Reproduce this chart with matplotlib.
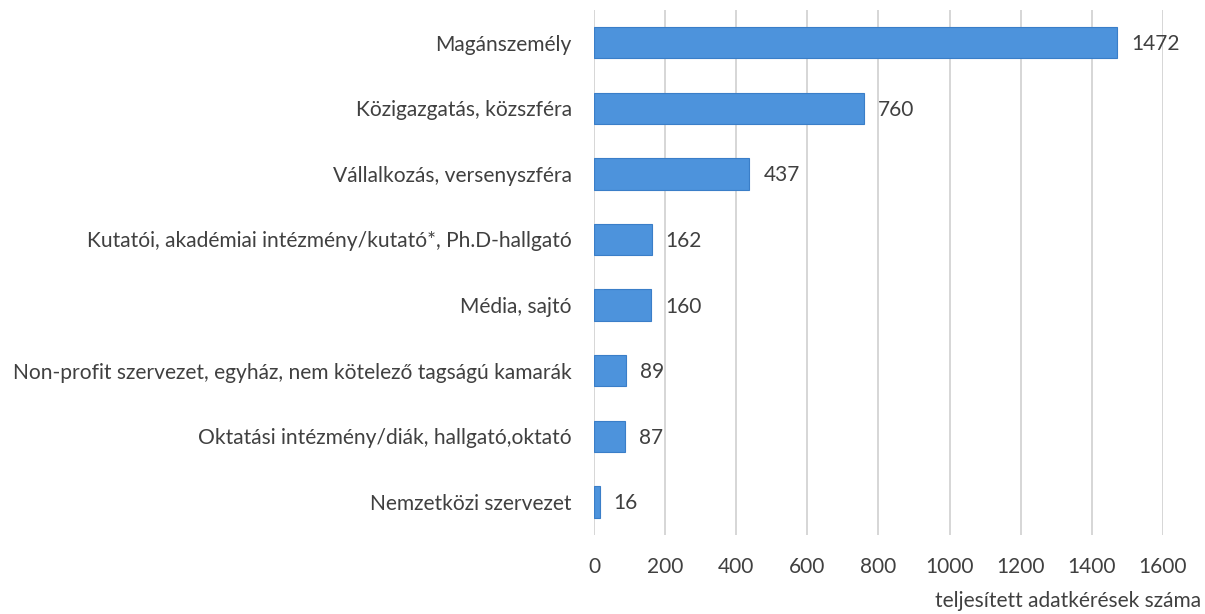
import matplotlib
matplotlib.use("Agg")
import matplotlib.pyplot as plt

categories = [
    "Magánszemély",
    "Közigazgatás, közszféra",
    "Vállalkozás, versenyszféra",
    "Kutatói, akadémiai intézmény/kutató*, Ph.D-hallgató",
    "Média, sajtó",
    "Non-profit szervezet, egyház, nem kötelező tagságú kamarák",
    "Oktatási intézmény/diák, hallgató,oktató",
    "Nemzetközi szervezet",
]
values = [1472, 760, 437, 162, 160, 89, 87, 16]
xticks = [0, 200, 400, 600, 800, 1000, 1200, 1400, 1600]

plt.rcParams['font.family'] = ['Lato', 'DejaVu Sans']
text_col = '#404040'

fig = plt.figure(figsize=(12.05, 6.14), dpi=100)
ax = fig.add_axes([0.493, 0.129, 0.472, 0.855])

ypos = list(range(len(categories)))
ax.barh(ypos, values, height=0.48, color='#4d93dc', edgecolor='#3a7ec8',
        linewidth=0.8, zorder=3)

for y, v in zip(ypos, values):
    ax.annotate(str(v), (v, y), xytext=(10, -1), textcoords='offset points',
                ha='left', va='center', fontsize=15, color=text_col)

ax.set_xlim(0, 1600)
ax.set_ylim(len(categories) - 0.5, -0.5)
ax.set_xticks(xticks)
ax.set_xticklabels([str(t) for t in xticks], fontsize=15, color=text_col)
ax.set_yticks(ypos)
ax.set_yticklabels(categories, fontsize=15.1, color=text_col)
ax.tick_params(axis='x', length=0, pad=16)
ax.tick_params(axis='y', length=0, pad=16)
ax.grid(axis='x', color='#d0d0d0', linewidth=1.2, zorder=0)
for s in ax.spines.values():
    s.set_visible(False)

fig.text(0.997, 0.005, "teljesített adatkérések száma", ha='right', va='bottom',
         fontsize=15, color=text_col)

fig.savefig("out.png", dpi=100)
